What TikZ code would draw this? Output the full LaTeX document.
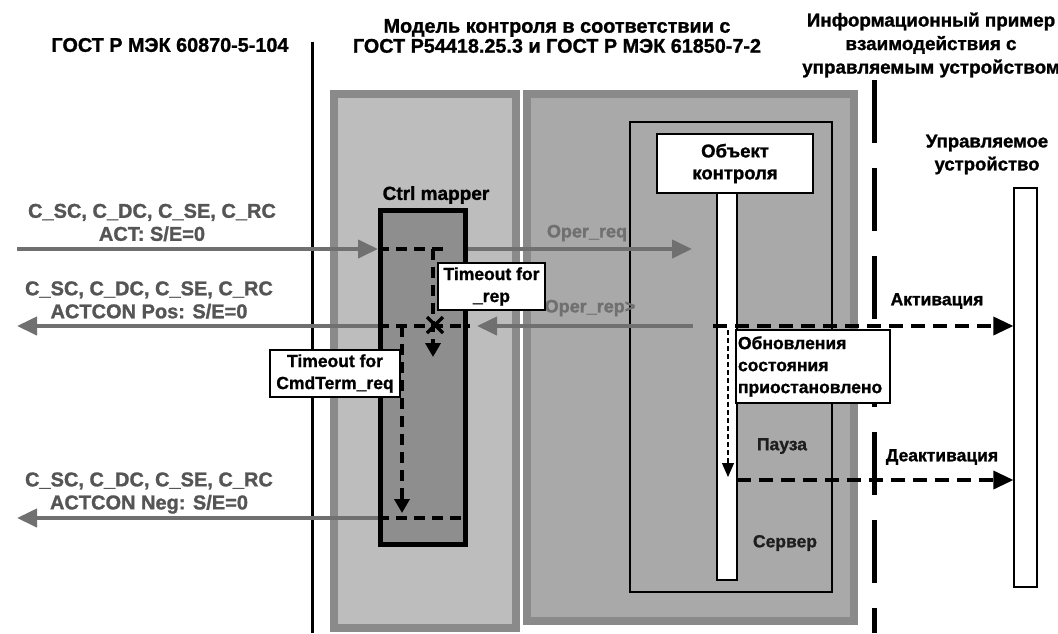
\documentclass[tikz,border=0pt]{standalone}
\usepackage{fontspec}
\setmainfont{Liberation Sans}[BoldFeatures={FakeBold=1.2}]
\usetikzlibrary{arrows.meta,calc}
\definecolor{labgray}{HTML}{555555}
\definecolor{arrgray}{HTML}{707070}
\definecolor{lfill}{HTML}{BDBDBD}
\definecolor{rfill}{HTML}{A9A9A9}
\definecolor{bord}{HTML}{8A8A8A}
\definecolor{cfill}{HTML}{8E8E8E}
\definecolor{dtext}{HTML}{1E1E1E}
\tikzset{
  hdr/.style={font=\fontsize{19.8}{20}\selectfont\bfseries, inner sep=0pt, align=center},
  glab/.style={font=\fontsize{20}{23}\selectfont\bfseries, text=labgray, align=center, inner sep=0pt},
  wbox/.style={draw=black, line width=1.5pt, fill=white, font=\fontsize{17.5}{22}\selectfont\bfseries, inner sep=0pt},
  plain/.style={font=\fontsize{17.5}{22}\selectfont\bfseries, inner sep=0pt, align=center},
  garrow/.style={draw=arrgray, line width=4pt, -{Triangle[length=20pt,width=18pt]}},
  dline/.style={draw=black, line width=3.5pt, dash pattern=on 11pt off 7pt},
  darrow/.style={draw=black, line width=3.5pt, dash pattern=on 14pt off 8pt, -{Triangle[length=20pt,width=18pt]}},
  vdarrow/.style={draw=black, line width=3.5pt, dash pattern=on 11pt off 7pt, -{Triangle[length=14pt,width=15pt]}},
  tdarrow/.style={draw=black, line width=1.2pt, dash pattern=on 5pt off 3pt, -{Triangle[length=14pt,width=12pt]}},
}
\begin{document}
\begin{tikzpicture}[x=1pt,y=-1pt]
\useasboundingbox (0,0) rectangle (1058,633);
\fill[white] (0,0) rectangle (1058,633);

% headers
\node[hdr] (h1) at (170,45) {ГОСТ Р МЭК 60870-5-104};
\node[hdr] (h2) at (557,36) {Модель контроля в соответствии с\\ГОСТ Р54418.25.3 и ГОСТ Р МЭК 61850-7-2};
\node[hdr, font=\fontsize{18.8}{23.5}\selectfont\bfseries] (h3) at (931,45) {Информационный пример\\взаимодействия с\\управляемым устройством};

% separators
\coordinate (s1t) at (312,42);
\coordinate (s1b) at (312,633);
\draw[line width=3pt] (s1t) -- (s1b);
\coordinate (s2t) at (874,80);
\coordinate (s2b) at (874,633);
\draw[line width=5pt, dash pattern=on 63pt off 25pt] (s2t) -- (s2b);

% big boxes
\node[draw=bord, fill=lfill, line width=8pt, minimum width=182pt, minimum height=534pt, inner sep=0pt] (lbox) at (425,361) {};
\node[draw=bord, fill=rfill, line width=8pt, minimum width=327pt, minimum height=527pt, inner sep=0pt] (rbox) at (690.5,357.5) {};
\node[draw=black, line width=1.2pt, minimum width=202pt, minimum height=470pt, inner sep=0pt] (inner) at (731,357) {};

% ctrl mapper
\node[draw=black, fill=cfill, line width=5pt, minimum width=85pt, minimum height=334pt, inner sep=0pt] (ctrl) at (423,377.5) {};
\node[plain, font=\fontsize{19}{22}\selectfont\bfseries] (ctrllab) at (436,195) {Ctrl mapper};

% object of control and lifeline
\node[draw=black, fill=white, line width=1.2pt, minimum width=20pt, minimum height=387pt, inner sep=0pt] (life) at (727,386.5) {};
\node[wbox, minimum width=156pt, minimum height=59pt, align=center, font=\fontsize{18.5}{22}\selectfont\bfseries] (obj) at (735,163.5) {Объект\\контроля};

% device
\node[plain, font=\fontsize{18.5}{23}\selectfont\bfseries] (devlab) at (987,154.5) {Управляемое\\устройство};
\node[draw=black, fill=white, line width=1.2pt, minimum width=23pt, minimum height=399pt, inner sep=0pt] (dev) at (1025.5,387.5) {};

% states
\node[plain, text=dtext] (pause) at (782,446) {Пауза};
\node[plain, text=dtext] (serv) at (785,543) {Сервер};

% coordinates
\coordinate (a1s) at (17,249);
\coordinate (a2e) at (17,326);
\coordinate (a3e) at (17,518);
\coordinate (opreqe) at (692,249);
\coordinate (opreps) at (693,326);
\coordinate (oprepe) at (477,326);
\coordinate (d1e) at (450,249);
\coordinate (v1s) at (433,249);
\coordinate (v1e) at (433,357);
\coordinate (d2e) at (470,326);
\coordinate (v2s) at (402,326);
\coordinate (v2e) at (402,513);
\coordinate (d3e) at (463,518);
\coordinate (xc) at (435,325);
\coordinate (acts) at (713,326);
\coordinate (tvs) at (728,330);
\coordinate (tve) at (728,477);
\coordinate (deas) at (737,480);

% left gray arrows and labels
\node[glab] (l1) at (152,222.5) {C\_SC, C\_DC, C\_SE, C\_RC\\ACT: S/E=0};
\node[glab] (l2) at (149,300) {C\_SC, C\_DC, C\_SE, C\_RC\\ACTCON Pos: S/E=0};
\node[glab] (l3) at (149,493) {C\_SC, C\_DC, C\_SE, C\_RC\\ACTCON Neg: S/E=0};
\draw[garrow] (a1s) -- (a1s -| ctrl.west);
\draw[garrow] (a2e -| ctrl.west) -- (a2e);
\draw[garrow] (a3e -| ctrl.west) -- (a3e);

% oper req / rep
\draw[garrow] (a1s -| ctrl.east) -- (opreqe);
\node[glab, text=arrgray, font=\fontsize{18}{22}\selectfont\bfseries] (opreq) at (587,233) {Oper\_req};
\draw[garrow] (opreps) -- (oprepe);
\node[glab, text=arrgray, font=\fontsize{18}{22}\selectfont\bfseries] (oprep) at (590,308) {Oper\_rep>};

% dashed lines inside ctrl mapper
\draw[dline] (a1s -| ctrl.west) -- (d1e);
\draw[vdarrow] (v1s) -- (v1e);
\draw[dline] (a2e -| ctrl.west) -- (d2e);
\draw[vdarrow] (v2s) -- (v2e);
\draw[dline] (a3e -| ctrl.west) -- (d3e);
\draw[line width=3.5pt] ($(xc)+(-8,-8)$) -- ($(xc)+(8,8)$);
\draw[line width=3.5pt] ($(xc)+(-8,8)$) -- ($(xc)+(8,-8)$);

% timeout boxes
\node[wbox, minimum width=107pt, minimum height=47pt, align=center] (torep) at (491.5,286.5) {Timeout for\\\_rep};
\node[wbox, minimum width=130pt, minimum height=47pt, align=center] (tocmd) at (335,373.5) {Timeout for\\CmdTerm\_req};

% activation
\draw[darrow] (acts) -- (acts -| dev.west);
\node[plain] (actlab) at (937,301) {Активация};
\draw[tdarrow] (tvs) -- (tve);
\node[wbox, minimum width=154pt, minimum height=73pt, align=left, text width=150pt] (upd) at (813,366.5) {Обновления\\состояния\\приостановлено};
\draw[darrow] (deas) -- (deas -| dev.west);
\node[plain] (dealab) at (942,457) {Деактивация};
\end{tikzpicture}
\end{document}
